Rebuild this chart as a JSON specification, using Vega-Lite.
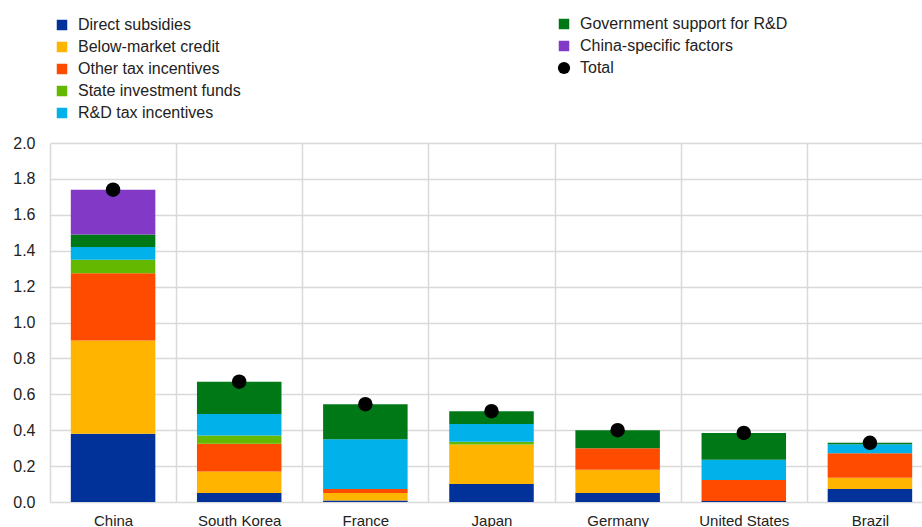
{
  "$schema": "https://vega.github.io/schema/vega-lite/v6.json",
  "autosize": {"type": "none"},
  "width": 872,
  "height": 359,
  "padding": {"left": 50, "top": 143, "right": 0, "bottom": 25},
  "background": "white",
  "config": {
    "font": "Liberation Sans",
    "view": {"stroke": null},
    "axis": {"labelFont": "Liberation Sans", "labelFontSize": 15, "labelColor": "#222", "gridColor": "#d9d9d9", "gridWidth": 1.5, "domain": false, "ticks": false, "title": null},
    "legend": {"labelFont": "Liberation Sans", "labelFontSize": 16, "labelColor": "#222", "padding": 0, "rowPadding": 6, "title": null, "labelOffset": 8, "labelLimit": 0}
  },
  "datasets": {
    "parts": [
      {"country": "China", "category": "Direct subsidies", "value": 0.38},
      {"country": "China", "category": "Below-market credit", "value": 0.52},
      {"country": "China", "category": "Other tax incentives", "value": 0.375},
      {"country": "China", "category": "State investment funds", "value": 0.075},
      {"country": "China", "category": "R&D tax incentives", "value": 0.07},
      {"country": "China", "category": "Government support for R&D", "value": 0.07},
      {"country": "China", "category": "China-specific factors", "value": 0.25},
      {"country": "South Korea", "category": "Direct subsidies", "value": 0.05},
      {"country": "South Korea", "category": "Below-market credit", "value": 0.12},
      {"country": "South Korea", "category": "Other tax incentives", "value": 0.155},
      {"country": "South Korea", "category": "State investment funds", "value": 0.045},
      {"country": "South Korea", "category": "R&D tax incentives", "value": 0.12},
      {"country": "South Korea", "category": "Government support for R&D", "value": 0.18},
      {"country": "France", "category": "Direct subsidies", "value": 0.008},
      {"country": "France", "category": "Below-market credit", "value": 0.042},
      {"country": "France", "category": "Other tax incentives", "value": 0.022},
      {"country": "France", "category": "R&D tax incentives", "value": 0.278},
      {"country": "France", "category": "Government support for R&D", "value": 0.195},
      {"country": "Japan", "category": "Direct subsidies", "value": 0.10},
      {"country": "Japan", "category": "Below-market credit", "value": 0.22},
      {"country": "Japan", "category": "State investment funds", "value": 0.015},
      {"country": "Japan", "category": "R&D tax incentives", "value": 0.10},
      {"country": "Japan", "category": "Government support for R&D", "value": 0.07},
      {"country": "Germany", "category": "Direct subsidies", "value": 0.05},
      {"country": "Germany", "category": "Below-market credit", "value": 0.13},
      {"country": "Germany", "category": "Other tax incentives", "value": 0.12},
      {"country": "Germany", "category": "Government support for R&D", "value": 0.10},
      {"country": "United States", "category": "Direct subsidies", "value": 0.005},
      {"country": "United States", "category": "Other tax incentives", "value": 0.118},
      {"country": "United States", "category": "R&D tax incentives", "value": 0.112},
      {"country": "United States", "category": "Government support for R&D", "value": 0.15},
      {"country": "Brazil", "category": "Direct subsidies", "value": 0.072},
      {"country": "Brazil", "category": "Below-market credit", "value": 0.063},
      {"country": "Brazil", "category": "Other tax incentives", "value": 0.137},
      {"country": "Brazil", "category": "R&D tax incentives", "value": 0.05},
      {"country": "Brazil", "category": "Government support for R&D", "value": 0.008}
    ],
    "order": [
      {"category": "Direct subsidies", "rank": 1},
      {"category": "Below-market credit", "rank": 2},
      {"category": "Other tax incentives", "rank": 3},
      {"category": "State investment funds", "rank": 4},
      {"category": "R&D tax incentives", "rank": 5},
      {"category": "Government support for R&D", "rank": 6},
      {"category": "China-specific factors", "rank": 7}
    ],
    "totals": [
      {"country": "China", "total": 1.74},
      {"country": "South Korea", "total": 0.67},
      {"country": "France", "total": 0.545},
      {"country": "Japan", "total": 0.506},
      {"country": "Germany", "total": 0.40},
      {"country": "United States", "total": 0.385},
      {"country": "Brazil", "total": 0.33}
    ]
  },
  "layer": [
    {
      "data": {"name": "parts"},
      "transform": [
        {"lookup": "category", "from": {"data": {"name": "order"}, "key": "category", "fields": ["rank"]}},
        {"stack": "value", "groupby": ["country"], "sort": [{"field": "rank", "order": "ascending"}], "as": ["y0", "y1"]},
        {"filter": {"field": "rank", "lte": 5}}
      ],
      "mark": {"type": "bar", "width": {"band": 0.67}},
      "encoding": {
        "x": {"field": "country", "type": "nominal", "sort": ["China", "South Korea", "France", "Japan", "Germany", "United States", "Brazil"],
              "scale": {"paddingInner": 0, "paddingOuter": 0, "range": [0, 883]},
              "axis": {"labelAngle": 0, "grid": true, "tickBand": "extent", "labelPadding": 11}},
        "y": {"field": "y0", "type": "quantitative", "scale": {"domain": [0, 2], "nice": false},
              "axis": {"values": [0, 0.2, 0.4, 0.6, 0.8, 1.0, 1.2, 1.4, 1.6, 1.8, 2.0], "format": ".1f", "grid": true, "labelPadding": 15, "labelOverlap": false, "labelFontSize": 16}},
        "y2": {"field": "y1"},
        "color": {"field": "category", "type": "nominal",
                  "scale": {"domain": ["Direct subsidies", "Below-market credit", "Other tax incentives", "State investment funds", "R&D tax incentives"],
                            "range": ["#003299", "#FFB400", "#FF4B00", "#65B800", "#00B1EA"]},
                  "legend": {"orient": "none", "legendX": 4, "legendY": -126, "symbolType": "square", "symbolSize": 110, "symbolStrokeWidth": 0}}
      }
    },
    {
      "data": {"name": "parts"},
      "transform": [
        {"lookup": "category", "from": {"data": {"name": "order"}, "key": "category", "fields": ["rank"]}},
        {"stack": "value", "groupby": ["country"], "sort": [{"field": "rank", "order": "ascending"}], "as": ["y0", "y1"]},
        {"filter": {"field": "rank", "gt": 5}}
      ],
      "mark": {"type": "bar", "width": {"band": 0.67}},
      "encoding": {
        "x": {"field": "country", "type": "nominal", "sort": ["China", "South Korea", "France", "Japan", "Germany", "United States", "Brazil"],
              "axis": {"labelAngle": 0, "grid": true, "tickBand": "extent", "labelPadding": 11}},
        "y": {"field": "y0", "type": "quantitative",
              "axis": {"values": [0, 0.2, 0.4, 0.6, 0.8, 1.0, 1.2, 1.4, 1.6, 1.8, 2.0], "format": ".1f", "grid": true, "labelPadding": 15, "labelOverlap": false, "labelFontSize": 16}},
        "y2": {"field": "y1"},
        "color": {"field": "category", "type": "nominal",
                  "scale": {"domain": ["Government support for R&D", "China-specific factors"], "range": ["#007816", "#8139C6"]},
                  "legend": {"orient": "none", "legendX": 506, "legendY": -127, "symbolType": "square", "symbolSize": 110, "symbolStrokeWidth": 0}}
      }
    },
    {
      "data": {"name": "totals"},
      "mark": {"type": "point", "filled": true, "opacity": 1, "size": 210, "shape": "circle"},
      "encoding": {
        "x": {"field": "country", "type": "nominal", "sort": ["China", "South Korea", "France", "Japan", "Germany", "United States", "Brazil"],
              "axis": {"labelAngle": 0, "grid": true, "tickBand": "extent", "labelPadding": 11}},
        "y": {"field": "total", "type": "quantitative",
              "axis": {"values": [0, 0.2, 0.4, 0.6, 0.8, 1.0, 1.2, 1.4, 1.6, 1.8, 2.0], "format": ".1f", "grid": true, "labelPadding": 15, "labelOverlap": false, "labelFontSize": 16}},
        "color": {"datum": "Total", "scale": {"domain": ["Total"], "range": ["#000000"]},
                  "legend": {"orient": "none", "legendX": 506, "legendY": -83, "symbolType": "circle", "symbolSize": 150, "symbolStrokeWidth": 0}}
      }
    }
  ],
  "resolve": {"scale": {"color": "independent"}, "legend": {"color": "independent"}}
}
